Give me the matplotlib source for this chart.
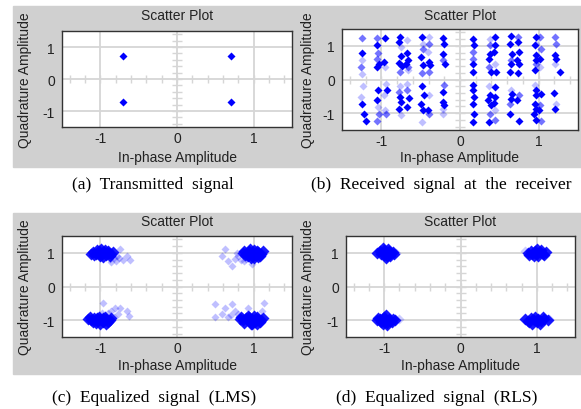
import matplotlib
matplotlib.use("Agg")
import numpy as np
import matplotlib.pyplot as plt
from matplotlib.patches import Rectangle

# (a) transmitted QPSK symbols
a_x = [-0.707, 0.707, -0.707, 0.707]
a_y = [0.707, 0.707, -0.707, -0.707]

# (b) received signal (dark / medium / faded points)
b_dark = [(-1.25, 0.79), (-1.24, -0.74), (-1.22, -1.03), (-1.20, -1.24),
          (-1.05, 1.01), (-1.03, 0.47), (-1.06, 0.37), (-1.04, -0.32), (-1.05, -0.62),
          (-0.95, 1.24), (-0.96, 0.52), (-0.93, -0.32),
          (-0.76, 1.26), (-0.77, 1.11), (-0.75, 0.69), (-0.78, 0.49), (-0.74, 0.39),
          (-0.76, -0.52), (-0.75, -0.67), (-0.77, -0.87),
          (-0.67, 0.79), (-0.66, 0.57), (-0.69, 0.47), (-0.65, -0.54), (-0.68, -0.82),
          (-0.48, 1.26), (-0.49, 0.67), (-0.47, 0.42), (-0.48, -0.20), (-0.46, -0.47),
          (-0.49, -0.72), (-0.47, -0.91),
          (-0.40, 0.52), (-0.38, 0.42), (-0.41, -0.91),
          (-0.21, 1.24), (-0.20, 1.06), (-0.22, 0.77), (-0.19, 0.47), (-0.21, -0.37),
          (-0.22, -0.67), (-0.20, -0.77),
          (0.17, 1.21), (0.18, 1.01), (0.16, 0.45), (0.17, 0.22), (0.17, -0.17),
          (0.16, -0.32), (0.18, -0.52), (0.17, -0.72), (0.18, -1.01), (0.16, -1.26),
          (0.38, 0.77), (0.37, 0.62), (0.39, 0.22), (0.38, -0.47), (0.36, -0.62),
          (0.39, -0.77), (0.37, -1.26),
          (0.44, 1.26), (0.45, 1.01), (0.43, 0.82), (0.46, 0.22), (0.44, -0.22),
          (0.45, -0.52), (0.43, -0.70),
          (0.65, 1.28), (0.64, 1.06), (0.66, 0.77), (0.65, 0.45), (0.64, 0.22),
          (0.66, -0.42), (0.65, -0.57), (0.64, -1.01),
          (0.74, 1.11), (0.75, 0.82), (0.73, 0.57), (0.75, 0.47), (0.74, 0.19),
          (0.73, -0.62), (0.75, -1.23),
          (0.96, 1.26), (0.95, 1.01), (0.97, 0.72), (0.96, 0.57), (0.95, 0.27),
          (0.96, -0.32), (0.97, -0.47), (0.95, -0.72), (0.96, -0.87), (0.94, -1.01),
          (0.96, -1.21),
          (1.02, 0.62), (1.03, -0.42), (1.01, -0.91),
          (1.21, 0.72), (1.22, 0.62), (1.20, -0.40), (1.21, -0.87), (1.27, 0.22)]
b_med = [(-1.25, 1.24), (-1.26, 0.37), (-1.05, 1.24), (-1.04, 0.79), (-1.06, 0.62),
         (-1.03, -1.03), (-1.05, -1.23), (-0.94, -1.03), (-0.76, 0.22), (-0.77, -0.37),
         (-0.66, 0.37), (-0.67, -0.32), (-0.47, 0.91), (-0.48, 0.20), (-0.39, 1.06),
         (-0.40, 0.22), (-0.39, -1.03), (-0.21, 0.57), (-0.20, -0.17), (0.17, 0.82),
         (0.16, 0.62), (0.38, 1.01), (0.37, 0.37), (0.38, -1.01), (0.45, -1.21),
         (0.65, 0.57), (0.64, -0.72), (0.74, 1.26), (0.75, -0.47), (0.97, 0.47),
         (1.02, 1.26), (1.03, 0.91), (1.02, -0.77), (1.03, -1.24), (1.21, 1.26), (1.22, 1.06)]
b_light = [(-1.24, 0.57), (-1.25, 0.17), (-1.23, -0.20), (-1.26, -0.52), (-1.04, -0.82),
           (-0.95, 0.37), (-0.94, -0.14), (-0.96, -0.47), (-0.95, -0.91), (-0.75, 0.96),
           (-0.76, -0.20), (-0.75, -1.06), (-0.67, 1.18), (-0.66, 0.27), (-0.68, -0.14),
           (-0.47, 1.06), (-0.48, -1.26), (-0.40, 1.26), (-0.41, 0.82), (-0.39, -0.47),
           (-0.21, -0.87), (-0.22, -1.03), (0.38, 1.21), (0.37, -0.20), (0.44, 0.47),
           (0.45, -0.91), (0.65, -0.32), (0.96, 1.06), (0.95, -0.17), (1.02, 0.37),
           (1.21, 0.47), (1.22, -0.74)]

# (c) LMS equalizer output
c_dark = [(-1.10, 1.02), (-1.06, 0.98), (-1.02, 1.05), (-0.98, 0.96), (-0.95, 1.02),
          (-0.92, 0.94), (-0.89, 1.00), (-0.86, 0.96), (-1.08, 0.94), (-1.04, 1.08),
          (-0.99, 1.10), (-0.94, 1.08), (-0.90, 1.06), (-1.00, 0.90), (-0.96, 0.88),
          (-0.88, 0.90), (-1.12, 0.98), (-0.84, 1.02), (-1.02, 0.97), (-0.97, 1.01),
          (0.86, 1.00), (0.90, 0.96), (0.94, 1.04), (0.98, 1.00), (1.02, 0.94),
          (1.06, 1.02), (1.10, 0.98), (0.92, 0.90), (0.96, 0.86), (1.00, 1.08),
          (1.04, 1.06), (0.88, 1.06), (1.08, 0.90), (1.12, 1.04), (0.97, 0.93),
          (1.01, 0.84), (0.95, 1.10), (1.03, 0.99), (0.89, 0.93), (1.05, 0.88),
          (-1.16, -0.97), (-1.12, -1.00), (-1.08, -0.95), (-1.04, -1.02), (-1.00, -0.96),
          (-0.96, -1.04), (-0.92, -0.98), (-0.88, -1.00), (-0.86, -0.94), (-1.06, -1.08),
          (-1.00, -1.10), (-0.94, -0.90), (-1.02, -0.90), (-0.98, -1.00), (-1.10, -1.04),
          (-0.90, -1.06), (-1.04, -0.93), (-0.96, -0.94), (-1.14, -0.92), (-0.92, -1.10),
          (0.82, -0.96), (0.86, -1.00), (0.90, -0.94), (0.94, -1.02), (0.98, -0.96),
          (1.02, -1.04), (1.06, -0.98), (1.10, -1.00), (0.88, -1.08), (0.96, -1.10),
          (1.04, -0.90), (0.92, -0.88), (1.00, -1.00), (1.08, -1.06), (0.84, -0.90),
          (1.12, -0.94), (0.98, -1.12), (0.94, -0.92), (1.00, -0.88), (1.04, -1.10)]
c_light = [(-0.74, 1.10), (-0.65, 0.90), (-0.61, 0.79), (-0.80, 0.76), (-0.86, 0.74),
           (-0.82, 0.86), (-0.76, 0.84), (-0.70, 0.80), (-0.88, 0.82), (-0.78, 0.92),
           (0.63, 1.10), (0.59, 0.90), (0.72, 0.61), (0.76, 0.81), (0.67, 0.76),
           (0.87, 0.76), (0.98, 0.66), (1.13, 1.00), (0.80, 0.92), (0.84, 0.80),
           (0.78, 1.00), (0.90, 0.82),
           (-0.96, -0.48), (-0.98, -0.78), (-0.81, -0.63), (-0.74, -0.63), (-0.65, -0.73),
           (-0.63, -0.88), (-0.77, -0.83), (-1.13, -0.88), (-0.86, -0.73), (-0.82, -0.90),
           (-0.90, -0.80),
           (0.50, -0.53), (0.50, -0.92), (0.63, -0.63), (0.72, -0.53), (0.76, -0.73),
           (0.67, -0.92), (0.93, -0.63), (1.13, -0.48), (1.11, -0.73), (0.85, -0.87),
           (1.06, -1.07), (0.59, -0.83), (0.80, -0.82), (0.70, -0.86)]

# (d) RLS equalizer output
d_dark = [(-1.10, 1.00), (-1.06, 1.04), (-1.04, 0.96), (-1.00, 1.08), (-0.98, 1.00),
          (-0.96, 0.92), (-0.94, 1.04), (-0.92, 0.98), (-0.89, 1.02), (-0.87, 0.97),
          (-1.02, 1.14), (-0.98, 0.86), (-0.95, 1.12), (-1.00, 0.94), (-0.93, 0.90),
          (0.88, 1.00), (0.92, 1.04), (0.94, 0.96), (0.98, 1.06), (1.00, 0.98),
          (1.02, 0.92), (1.04, 1.02), (1.08, 0.98), (1.12, 1.02), (0.96, 0.90),
          (1.00, 1.10), (1.06, 1.08), (0.90, 0.94), (1.10, 0.94), (0.98, 1.00),
          (-1.10, -1.00), (-1.06, -0.96), (-1.04, -1.04), (-1.00, -0.92), (-0.98, -1.00),
          (-0.96, -1.08), (-0.94, -0.96), (-0.92, -1.02), (-0.88, -0.98), (-1.02, -1.12),
          (-0.98, -0.86), (-0.90, -1.06), (-1.08, -0.94), (-0.96, -1.14), (-0.86, -1.00),
          (0.84, -0.98), (0.88, -1.02), (0.92, -0.94), (0.96, -1.00), (1.00, -1.06),
          (1.02, -0.96), (1.06, -1.02), (1.10, -0.98), (1.14, -1.00), (0.94, -1.10),
          (0.98, -0.90), (1.04, -1.12), (0.90, -1.06), (1.08, -0.92), (1.00, -1.00)]
d_light = [(-0.80, -0.96), (-0.84, 1.00), (0.84, 1.04), (1.16, -0.96)]

captions = ["(a)  Transmitted  signal", "(b)  Received  signal  at  the  receiver",
            "(c)  Equalized  signal  (LMS)", "(d)  Equalized  signal  (RLS)"]

W, H = 581, 410
fig = plt.figure(figsize=(W / 100, H / 100), dpi=100)
fig.patch.set_facecolor("white")

# grey panel backgrounds
for top, bot in [(7, 168), (214, 375)]:
    fig.patches.append(Rectangle((13 / W, 1 - bot / H), (W - 13) / W, (bot - top) / H,
                                 transform=fig.transFigure, color="#d0d0d0", zorder=-10))

sans = "Liberation Sans"
txt = "#222222"
blue = "#0000ff"
grid_c = "#d6d6d6"

# axes boxes in pixels: left, right, top, bottom, title gap, ylabel gap, xlabel gap
boxes = [(62, 292, 32, 128, 16, 37, 30),
         (342, 578, 30, 131, 14, 34, 27),
         (62, 292, 237, 338, 15, 37, 28),
         (346, 575, 237, 338, 15, 38, 28)]
axes = []
for l, r, t, b, tg, yg, xg in boxes:
    ax = fig.add_axes([l / W, 1 - b / H, (r - l) / W, (b - t) / H])
    ax.set_zorder(1)
    ax.set_xlim(-1.5, 1.5)
    ax.set_ylim(-1.5, 1.5)
    ax.set_xticks([-1, 0, 1])
    ax.set_yticks([-1, 0, 1])
    ax.set_xticklabels(["-1", "0", "1"])
    ax.set_yticklabels(["-1", "0", "1"])
    ax.tick_params(length=0, labelsize=10, labelcolor=txt, pad=3)
    ax.tick_params(axis="y", pad=5)
    for lab in ax.get_xticklabels() + ax.get_yticklabels():
        lab.set_family(sans)
    ax.grid(True, color=grid_c, lw=1.3, zorder=0)
    ax.set_axisbelow(True)
    minor = np.arange(-1.4, 1.41, 0.2)
    ax.plot(minor, np.zeros_like(minor), ls="", marker="|", ms=6, mew=1, color=grid_c, zorder=1)
    ax.plot(np.zeros_like(minor), minor, ls="", marker="_", ms=7, mew=1, color=grid_c, zorder=1)
    for s in ax.spines.values():
        s.set_color("#333333")
        s.set_linewidth(1.0)
    ax.annotate("Scatter Plot", (0.5, 1), xycoords="axes fraction", xytext=(0, tg * 0.72),
                textcoords="offset points", ha="center", va="center", fontsize=10,
                family=sans, color=txt)
    ax.annotate("Quadrature Amplitude", (0, 0.5), xycoords="axes fraction",
                xytext=(-yg * 0.72, 0), textcoords="offset points", ha="center",
                va="center", rotation=90, fontsize=10, family=sans, color=txt)
    ax.annotate("In-phase Amplitude", (0.5, 0), xycoords="axes fraction",
                xytext=(0, -xg * 0.72), textcoords="offset points", ha="center",
                va="center", fontsize=10, family=sans, color=txt)
    axes.append(ax)


def pts(ax, data, ms, alpha):
    xs = [p[0] for p in data]
    ys = [p[1] for p in data]
    ax.plot(xs, ys, ls="", marker="D", ms=ms, color=blue, mec="none", alpha=alpha, zorder=3)


axes[0].plot(a_x, a_y, ls="", marker="D", ms=4, color=blue, mec="none", zorder=3)
pts(axes[1], b_light, 4, 0.25)
pts(axes[1], b_med, 4, 0.55)
pts(axes[1], b_dark, 4, 1.0)
pts(axes[2], c_light, 4.5, 0.25)
pts(axes[2], c_dark, 6, 0.9)
pts(axes[3], d_light, 5, 0.2)
pts(axes[3], d_dark, 6, 0.9)

cap_pos = [(153, 185), (441, 185), (154, 398), (437, 398)]
for (cx, cy), cap in zip(cap_pos, captions):
    fig.text(cx / W, 1 - cy / H, cap, ha="center", va="center", fontsize=12.5,
             family="Liberation Serif", color="black")

fig.savefig("out.png", dpi=100)
